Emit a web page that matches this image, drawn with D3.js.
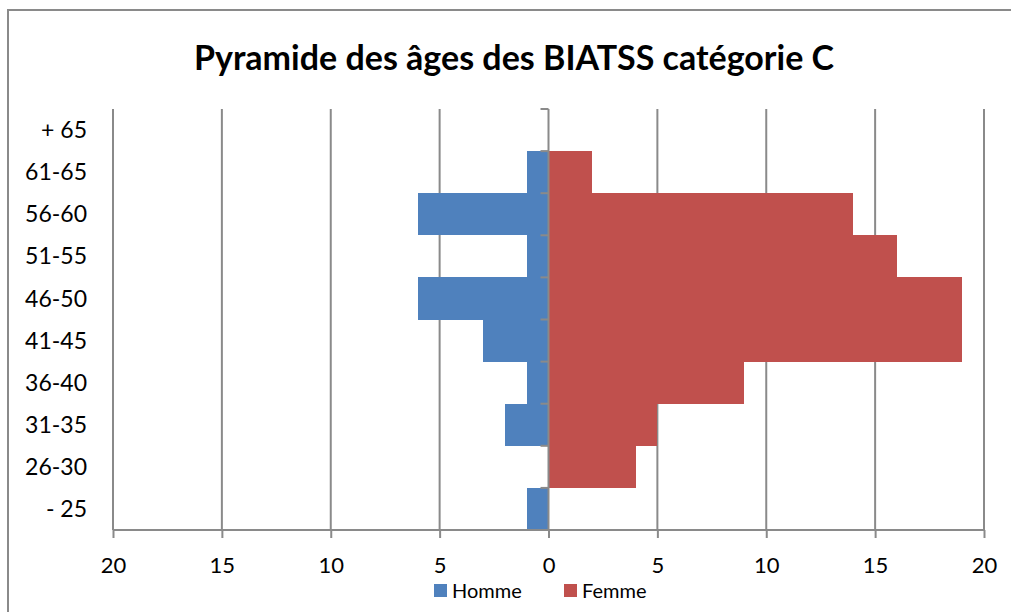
<!DOCTYPE html>
<html>
<head>
<meta charset="utf-8">
<script src="https://cdn.jsdelivr.net/npm/d3@7"></script>
<style>
  body { margin: 0; background: #fff; overflow: hidden; }
  svg { display: block; font-family: Lato, 'Open Sans', sans-serif; }
</style>
</head>
<body>
<svg id="chart" width="1011" height="612"></svg>
<script>
// age groups, top to bottom
let ages = ['+ 65', '61-65', '56-60', '51-55', '46-50', '41-45', '36-40', '31-35', '26-30', '- 25']
let homme = [0, 1, 6, 1, 6, 3, 1, 2, 0, 1]
let femme = [0, 2, 14, 16, 19, 19, 9, 5, 4, 0]
let xTicks = [-20, -15, -10, -5, 0, 5, 10, 15, 20]
let seriesNames = ['Homme', 'Femme']
let colors = ['#4f81bd', '#c0504d']

let svg = d3.select('#chart')
let margin = {top: 109, right: 27, bottom: 82, left: 113}
let width = 1011 - margin.left - margin.right
let height = 612 - margin.top - margin.bottom
let axisColor = '#8a8a8a'

// outer frame: only top and left sides are inside the picture
svg.append('path')
  .attr('d', 'M1020,10H8V620')
  .attr('fill', 'none')
  .attr('stroke', axisColor)
  .attr('stroke-width', 2)

svg.append('text')
  .attr('x', 514).attr('y', 70)
  .attr('text-anchor', 'middle')
  .style('font-size', '34px')
  .style('font-weight', 'bold')
  .text('Pyramide des âges des BIATSS catégorie C')

let x = d3.scaleLinear().domain([-20, 20]).range([0, width])
let y = d3.scaleBand().domain(ages).range([0, height]).padding(0)

let g = svg.append('g')
  .attr('transform', 'translate(' + margin.left + ',' + margin.top + ')')

// vertical gridlines
g.append('g')
  .selectAll('line')
  .data(xTicks.filter((d) => d !== 0))
  .enter().append('line')
    .attr('x1', (d) => x(d)).attr('x2', (d) => x(d))
    .attr('y1', 0).attr('y2', height)
    .attr('stroke', axisColor)
    .attr('stroke-width', 2)

let rows = ages.map((a, i) => ({age: a, h: homme[i], f: femme[i]}))

// homme bars go to the left
g.append('g')
  .attr('shape-rendering', 'crispEdges')
  .selectAll('rect')
  .data(rows)
  .enter().append('rect')
    .attr('x', (d) => x(-d.h))
    .attr('y', (d) => y(d.age))
    .attr('width', (d) => x(0) - x(-d.h))
    .attr('height', y.bandwidth())
    .attr('fill', colors[0])

g.append('g')
  .attr('shape-rendering', 'crispEdges')
  .selectAll('rect')
  .data(rows)
  .enter().append('rect')
    .attr('x', x(0))
    .attr('y', (d) => y(d.age))
    .attr('width', (d) => x(d.f) - x(0))
    .attr('height', y.bandwidth())
    .attr('fill', colors[1])

// bottom axis
let xAxis = d3.axisBottom(x)
  .tickValues(xTicks)
  .tickSize(8)
  .tickPadding(19)
  .tickFormat((d) => Math.abs(d))

let gx = g.append('g')
  .attr('transform', 'translate(0,' + height + ')')
  .call(xAxis)
gx.select('.domain').attr('stroke', axisColor).attr('stroke-width', 2)
  .attr('d', 'M0,0H' + width)
gx.selectAll('.tick line').attr('stroke', axisColor).attr('stroke-width', 2)
gx.selectAll('.tick text')
  .attr('fill', '#000')
  .style('font-size', '22px')
  .style('font-family', 'Lato, sans-serif')

// central axis with category ticks
let bounds = ages.map((a) => y(a)).concat([height])
g.append('line')
  .attr('x1', x(0)).attr('x2', x(0))
  .attr('y1', 0).attr('y2', height)
  .attr('stroke', axisColor)
  .attr('stroke-width', 2)
g.append('g')
  .selectAll('line')
  .data(bounds)
  .enter().append('line')
    .attr('x1', x(0) - 8).attr('x2', x(0))
    .attr('y1', (d) => d).attr('y2', (d) => d)
    .attr('stroke', axisColor)
    .attr('stroke-width', 2)

// category labels on the left
g.append('g')
  .selectAll('text')
  .data(ages)
  .enter().append('text')
    .attr('x', -26)
    .attr('y', (d) => y(d) + y.bandwidth() / 2)
    .attr('dy', '0.35em')
    .attr('text-anchor', 'end')
    .style('font-size', '23px')
    .text((d) => d)

// legend
let legend = svg.append('g')
  .attr('transform', 'translate(434,584)')
let item = legend.selectAll('g')
  .data(seriesNames)
  .enter().append('g')
    .attr('transform', (d, i) => 'translate(' + (i * 130) + ',0)')
item.append('rect')
  .attr('width', 13).attr('height', 13)
  .attr('fill', (d, i) => colors[i])
item.append('text')
  .attr('x', 18).attr('y', 7)
  .attr('dy', '0.35em')
  .style('font-size', '20px')
  .text((d) => d)
</script>
</body>
</html>
